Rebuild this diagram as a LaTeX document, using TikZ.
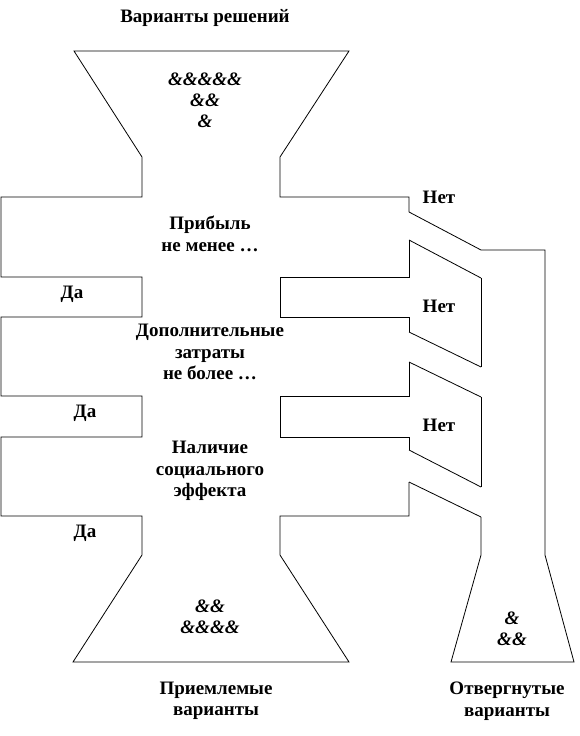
\documentclass[tikz,border=0pt]{standalone}
\usepackage{fontspec}
\setmainfont{Liberation Serif}
\usepackage{tikz}
\usetikzlibrary{positioning}

\begin{document}
\begin{tikzpicture}[x=1pt,y=-1pt,
  outline/.style={line width=0.8pt,line join=miter},
  lbl/.style={font=\fontsize{19}{21.5}\selectfont\bfseries,align=center,inner sep=0pt},
  amp/.style={font=\fontsize{19}{21}\selectfont\bfseries\itshape,align=center,inner sep=0pt}]
\useasboundingbox (0,0) rectangle (579,736);
% main funnel with the three checks
\draw[outline] (409,212) -- (409,197) -- (280,197) -- (280,157) -- (349,51) -- (74,51)
  -- (142,157) -- (142,197) -- (1,197) -- (1,277) -- (142,277) -- (142,317) -- (1,317)
  -- (1,396) -- (142,396) -- (142,437) -- (1,437) -- (1,516) -- (142,516) -- (142,555)
  -- (73,662) -- (349,662) -- (280,555) -- (280,516) -- (409,516) -- (409,482);
\draw[outline] (409,450) -- (409,437) -- (280,437) -- (280,396) -- (409,396) -- (409,362);
\draw[outline] (409,332) -- (409,317) -- (280,317) -- (280,277) -- (409,277) -- (409,240);
% outlets to the rejected tube
\draw[outline] (409,212) -- (481,250); \draw[outline] (409,240) -- (481,278);
\draw[outline] (409,332) -- (481,367); \draw[outline] (409,362) -- (481,397);
\draw[outline] (409,450) -- (481,487); \draw[outline] (409,482) -- (481,517);
% rejected tube
\draw[outline] (481,250) -- (545,250) -- (545,555) -- (574,662) -- (451,662) -- (481,555) -- (481,517);
\draw[outline] (481,487) -- (481,397);
\draw[outline] (481,367) -- (481,278);
% texts
\node[lbl] (title) at (205,18) {Варианты решений};
\node[amp] (inall) at (205,100) {\&\&\&\&\&\\\&\&\\\&};
\node[lbl] (chk1) at (210,234) {Прибыль\\не менее …};
\node[lbl] (chk2) at (210,352) {Дополнительные\\затраты\\не более …};
\node[lbl] (chk3) at (210,471) {Наличие\\социального\\эффекта};
\node[lbl] (yes1) at (72,294) {Да};
\node[lbl] (yes2) at (85,413) {Да};
\node[lbl] (yes3) at (85,533) {Да};
\node[lbl] (no1) at (439,197) {Нет};
\node[lbl] (no2) at (439,306) {Нет};
\node[lbl] (no3) at (439,425) {Нет};
\node[amp] (okamp) at (210,617) {\&\&\\\&\&\&\&};
\node[amp] (rejamp) at (512,629) {\&\\\&\&};
\node[lbl] (ok) at (216,701) {Приемлемые\\варианты};
\node[lbl] (rej) at (507,701) {Отвергнутые\\варианты};
\end{tikzpicture}
\end{document}
